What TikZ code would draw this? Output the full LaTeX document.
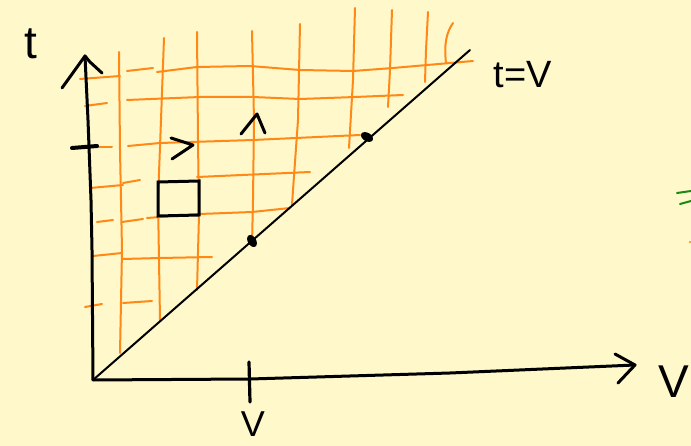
\documentclass[tikz,border=0pt]{standalone}
\usepackage{fontspec}
\setmainfont{Liberation Sans}
\definecolor{paper}{RGB}{254,248,202}
\definecolor{gridorange}{RGB}{255,136,22}
\definecolor{greenmark}{RGB}{20,140,20}
\begin{document}
\begin{tikzpicture}[x=1pt,y=-1pt,
  gridline/.style={draw=gridorange,line width=2pt,line cap=round,line join=round},
  axisline/.style={draw=black,line width=3pt,line cap=round,line join=round},
  thinline/.style={draw=black,line width=2pt,line cap=round},
  label/.style={inner sep=0pt,text=black}]
\fill[paper] (0,0) rectangle (691,446);
\useasboundingbox (0,0) rectangle (691,446);
\coordinate (O) at (93,380);
\coordinate (Tend) at (470,50);
\coordinate (Vtip) at (635,365);
\coordinate (Ttip) at (85,56);
% orange grid: horizontal
\draw[gridline] (80,79) -- (120,76);
\draw[gridline] (127,71) -- (153,68);
\draw[gridline] (157,72) -- (197,67) -- (250,66) -- (300,70) -- (353,71) -- (393,68) -- (473,61);
\draw[gridline] (85,106) -- (107,103);
\draw[gridline] (127,100) -- (200,97) -- (253,97) -- (300,99) -- (355,97) -- (403,95);
\draw[gridline] (97,147) -- (112,147);
\draw[gridline] (128,146) -- (160,143) -- (253,140) -- (360,135);
\draw[gridline] (90,188) -- (123,185);
\draw[gridline] (123,183) -- (140,180);
\draw[gridline] (197,177) -- (310,172);
\draw[gridline] (97,222) -- (113,220);
\draw[gridline] (122,222) -- (143,219);
\draw[gridline] (147,218) -- (200,214) -- (252,212) -- (290,208);
\draw[gridline] (93,256) -- (122,253);
\draw[gridline] (123,259) -- (160,258) -- (212,257);
\draw[gridline] (85,307) -- (102,304);
\draw[gridline] (123,303) -- (152,301);
% orange grid: vertical
\draw[gridline] (119,52) -- (120,150) -- (122,250) -- (120,353);
\draw[gridline] (164,38) -- (161,120) -- (158,200) -- (160,320);
\draw[gridline] (197,32) -- (198,140) -- (199,215) -- (197,290);
\draw[gridline] (252,31) -- (254,120) -- (253,200) -- (252,245);
\draw[gridline] (300,24) -- (298,120) -- (293,190) -- (292,205);
\draw[gridline] (355,8) -- (353,80) -- (349,148);
\draw[gridline] (392,10) -- (390,70) -- (388,107);
\draw[gridline] (428,12) -- (426,50) -- (425,82);
\draw[gridline] (453,23) .. controls (446,33) and (444,45) .. (446,63);
% diagonal t=V
\draw[thinline] (O) -- (Tend);
% axes
\draw[axisline] (O) -- (92,250) -- (91,200) -- (88,120) -- (Ttip);
\draw[axisline] (62,88) -- (Ttip) -- (90,62) -- (102,73);
\draw[axisline] (O) -- (250,379) -- (450,373) -- (Vtip);
\draw[axisline] (615,354) -- (Vtip) -- (618,383);
% ticks
\draw[black,line width=4pt,line cap=round] (72,148) -- (97,146);
\draw[black,line width=3.2pt,line cap=round] (249,362) -- (250,402);
% square
\draw[black,line width=3pt] (158,182) -- (199,181) -- (199,215) -- (158,216) -- cycle;
% direction chevrons
\draw[axisline] (171,138) -- (193,145) -- (172,159);
\draw[axisline] (241,134) -- (257,114) -- (265,133);
% dots on diagonal
\fill[black,rotate around={-60:(252,241)}] (252,241) ellipse (6.5pt and 4.2pt);
\fill[black,rotate around={-30:(367,137)}] (367,137) ellipse (6.5pt and 4.2pt);
% labels
\node[label,font=\fontsize{46}{46}\selectfont] (tlab) at (31,44) {t};
\node[label,font=\fontsize{38}{38}\selectfont] (tvlab) at (523,75) {t=V};
\node[label,font=\fontsize{36}{36}\selectfont] (vlab) at (253,424) {V};
\node[label,font=\fontsize{46}{46}\selectfont] (Vlab) at (674,382) {V};
% green marks at right edge
\draw[greenmark,line width=2pt,line cap=round] (677,193) -- (691,191);
\draw[greenmark,line width=2pt,line cap=round] (680,204) -- (691,201);
\fill[gridorange] (690,242) circle (1.2pt);
\end{tikzpicture}
\end{document}
